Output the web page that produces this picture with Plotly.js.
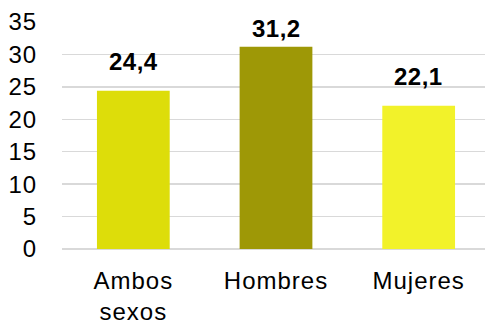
<!DOCTYPE html>
<html><head><meta charset="utf-8">
<script src="https://cdn.plot.ly/plotly-3.0.1.min.js"></script>
<style>
html,body{margin:0;padding:0;background:#fff;overflow:hidden}
#chart .xtick text,#chart .ytick text{letter-spacing:1px}
#chart .annotation-text{letter-spacing:0.5px}
</style>
</head><body><div id="chart" style="width:490px;height:322px"></div>
<script>
const categories = ["Ambos<br>sexos", "Hombres", "Mujeres"];
const values = [24.4, 31.2, 22.1];
const labels = ["24,4", "31,2", "22,1"];
const colors = ["#DDDD0A", "#9E9806", "#F2F22A"];
const yTicks = [0, 5, 10, 15, 20, 25, 30, 35];

const FONT = "Liberation Sans, Arial, sans-serif";
const TOP = 22, BOTTOM = 73, H = 322, YMAX = 35;
const plotH = H - TOP - BOTTOM;
// label offset: normal gap above bar, but keep the label inside the plot top
function labelShift(v) {
  const barTop = TOP + (YMAX - v) * plotH / YMAX;
  const baseline = Math.max(barTop - 16.5, TOP + 19);
  return barTop - baseline - 3;
}

Plotly.newPlot("chart", [{
  type: "bar",
  x: categories,
  y: values,
  marker: {color: colors},
  hoverinfo: "none"
}], {
  width: 490, height: H,
  margin: {l: 62, r: 0, t: TOP, b: BOTTOM},
  paper_bgcolor: "#fff", plot_bgcolor: "#fff",
  bargap: 0.49,
  showlegend: false,
  font: {family: FONT, size: 24, color: "#000"},
  annotations: categories.map((c, i) => ({
    x: c, y: values[i], text: labels[i], xref: "x", yref: "y",
    yanchor: "bottom", xanchor: "center", showarrow: false, yshift: labelShift(values[i]),
    font: {family: FONT, size: 24, color: "#000", weight: "bold"}
  })),
  xaxis: {tickfont: {size: 24}, showline: false, ticks: "outside", ticklen: 10, tickcolor: "rgba(0,0,0,0)", fixedrange: true},
  yaxis: {range: [0, YMAX], tickvals: yTicks, ticktext: yTicks.map(String), tickfont: {size: 24},
          showgrid: true, gridcolor: "#D9D9D9", gridwidth: 1.5, zeroline: true, zerolinecolor: "#D9D9D9", zerolinewidth: 1.5,
          showline: false, ticks: "outside", ticklen: 19, tickcolor: "rgba(0,0,0,0)", fixedrange: true}
}, {displayModeBar: false, staticPlot: true});
</script></body></html>
